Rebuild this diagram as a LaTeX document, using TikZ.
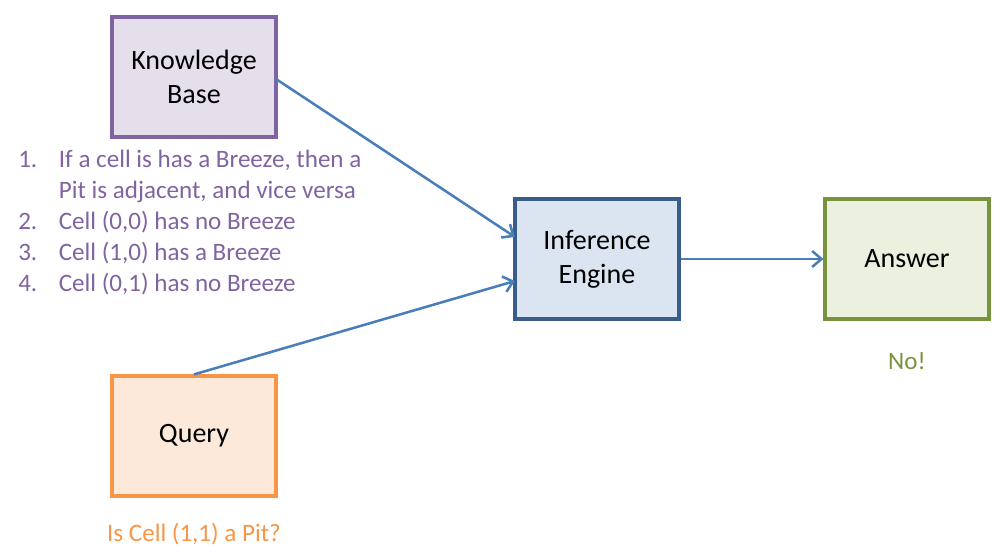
\documentclass[tikz,border=0pt]{standalone}
\usepackage{fontspec}
\setmainfont{Carlito}
\usetikzlibrary{arrows.meta}
\definecolor{kbfill}{HTML}{E5DFEC}
\definecolor{kbline}{HTML}{8064A2}
\definecolor{iefill}{HTML}{DBE5F1}
\definecolor{ieline}{HTML}{385D8A}
\definecolor{anfill}{HTML}{EBF1DE}
\definecolor{anline}{HTML}{77933C}
\definecolor{qfill}{HTML}{FDE9D9}
\definecolor{qline}{HTML}{F79646}
\definecolor{arr}{HTML}{4A7EBB}
\tikzset{
  boxnode/.style={draw, line width=2.4pt, minimum width=123pt, minimum height=90pt, inner sep=0pt, align=center, font=\fontsize{21}{25.5}\selectfont},
  conn/.style={draw=arr, line width=1.9pt, -{Straight Barb[length=7pt,width=12pt,line width=1.9pt]}},
  labeltxt/.style={font=\fontsize{18.8}{23.25}\selectfont, inner sep=0pt}
}
\begin{document}
\begin{tikzpicture}[x=0.75pt,y=-0.75pt]
\useasboundingbox (0,0) rectangle (1002,557);
\node[boxnode, draw=kbline, fill=kbfill] (kb) at (194,77) {Knowledge\\Base};
\node[boxnode, draw=ieline, fill=iefill] (ie) at (597,259) {Inference\\Engine};
\node[boxnode, draw=anline, fill=anfill] (an) at (907,259) {Answer};
\node[boxnode, draw=qline, fill=qfill] (q) at (194,436) {\raisebox{-2pt}{Query}};
\node[labeltxt, text=kbline, anchor=north west, align=left] (list) at (18,146) {%
\begin{tabular}{@{}l@{\hspace{16.2pt}}l@{}}
1. & If a cell is has a Breeze, then a\\
   & Pit is adjacent, and vice versa\\
2. & Cell (0,0) has no Breeze\\
3. & Cell (1,0) has a Breeze\\
4. & Cell (0,1) has no Breeze
\end{tabular}};
\node[labeltxt, text=anline] (no) at (907,361) {No!};
\node[labeltxt, text=qline] (qt) at (194,534) {Is Cell (1,1) a Pit?};
\coordinate (kbout) at (276,79);
\coordinate (iein1) at (515,237);
\coordinate (iein2) at (515,281);
\draw[conn] (kbout) -- (iein1);
\draw[conn] (q.north) -- (iein2);
\draw[conn] (ie.east) -- (an.west);
\end{tikzpicture}
\end{document}
